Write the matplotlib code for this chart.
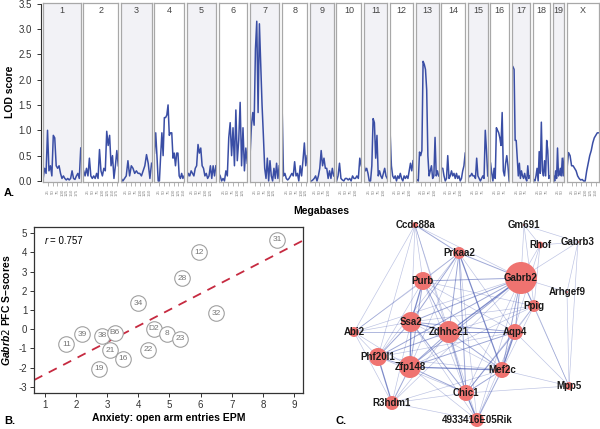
import numpy as np
import matplotlib.pyplot as plt
from matplotlib.patches import Circle

W, H = 600, 429

plt.rcParams['font.family'] = ['Liberation Sans', 'DejaVu Sans']
plt.rcParams['axes.unicode_minus'] = False
plt.rcParams['mathtext.fontset'] = 'custom'
plt.rcParams['mathtext.it'] = 'Liberation Sans:italic:bold'

# ---- Panel A: LOD scores per chromosome ----
chrom_names = ['1', '2', '3', '4', '5', '6', '7', '8', '9', '10', '11', '12', '13', '14',
               '15', '16', '17', '18', '19', 'X']
chrom_len = [197, 182, 160, 156, 152, 150, 153, 132, 125, 130, 122, 121, 120, 125,
             104, 98, 95, 91, 61, 167]

lod_1 = [0.05, 0.25, 0.15, 1.0, 0.2, 0.3, 0.1, 0.9, 0.85, 0.3, 0.25, 0.3, 0.15, 0.05,
         0.1, 0.05, 0.02, 0.05, 0.02, 0.05, 0.2, 0.05, 0.03, 0.1, 0.15, 0.05, 0.65]
lod_2 = [0.2, 0.1, 0.25, 0.1, 0.45, 0.1, 0.05, 0.1, 0.05, 0.15, 0.05, 0.62, 0.2, 0.1,
         0.25, 0.2, 0.98, 0.7, 0.9, 0.3, 0.5, 0.05, 0.3, 0.6, 0.3]
lod_3 = [0.05, 0.0, 0.05, 0.1, 0.4, 0.1, 0.3, 0.25, 0.15, 0.2, 0.15, 0.15, 0.1, 0.2,
         0.3, 0.52, 0.35, 0.05, 0.35]
lod_4 = [0.55, 0.95, 0.5, 0.0, 0.0, 0.5, 0.95, 0.5, 1.25, 1.25, 1.3, 1.5, 0.9, 0.95,
         0.95, 0.45, 0.55, 0.3, 0.55, 0.55, 0.1, 0.05, 0.15, 0.05, 0.1]
lod_5 = [0.05, 0.15, 0.1, 0.2, 0.15, 0.1, 0.25, 0.3, 0.72, 0.55, 0.65, 0.3, 0.25, 0.1,
         0.15, 0.05, 0.1, 0.3, 0.05, 0.3, 0.1, 0.3]
lod_6 = [0.15, 0.1, 0.0, 0.05, 0.0, 0.2, 0.1, 0.85, 1.15, 0.5, 1.05, 0.3, 1.4, 0.4,
         0.8, 1.55, 0.3, 1.05, 0.2, 0.65, 0.35]
lod_7 = [0.55, 1.1, 1.35, 1.1, 2.6, 3.15, 1.35, 3.1, 2.3, 1.5, 0.9, 0.25, 0.05, 0.45,
         0.0, 0.4, 0.1, 0.0, 0.25, 0.05, 0.35, 0.05, 0.3]
lod_8 = [1.45, 0.1, 0.15, 0.05, 0.02, 0.05, 0.1, 0.15, 0.1, 0.38, 0.1, 0.15, 0.0, 0.3,
         0.1, 0.4, 0.75, 0.3, 0.5]
lod_9 = [0.0, 0.0, 0.02, 0.05, 0.1, 0.0, 0.1, 0.25, 0.6, 0.3, 0.45, 0.25, 0.25, 0.05,
         0.2, 0.05, 0.25, 0.1]
lod_10 = [0.0, 0.1, 0.35, 0.05, 0.02, 0.0, 0.05, 0.05, 0.02, 0.05, 0.0, 0.1, 0.05, 0.05,
          0.1, 0.05, 0.45, 0.3]
lod_11 = [0.3, 0.2, 0.25, 0.15, 0.0, 0.0, 0.3, 1.23, 1.15, 0.45, 0.9, 0.1, 0.2, 0.1,
          0.05, 0.15, 0.25, 0.1, 0.05]
lod_12 = [0.96, 0.3, 0.1, 0.05, 0.1, 0.0, 0.1, 0.05, 0.15, 0.05, 0.0, 0.1, 0.05, 0.1,
          0.05, 0.2, 0.35, 0.2, 0.4]
lod_13 = [0.0, 0.02, 0.0, 0.57, 0.5, 0.6, 2.36, 2.3, 2.2, 1.8, 0.5, 0.1, 0.2, 0.3,
          0.05, 0.1, 0.86, 0.1, 0.2, 0.1]
lod_14 = [0.25, 0.25, 0.1, 0.0, 0.05, 0.5, 0.05, 0.1, 0.2, 0.1, 0.15, 0.05, 0.15, 0.05,
          0.1, 0.0, 0.05, 0.2, 0.3, 0.55]
lod_15 = [0.05, 0.1, 0.1, 0.15, 0.1, 0.1, 0.05, 0.45, 0.1, 0.05, 0.0, 0.05, 0.1, 0.05,
          1.0, 0.6, 0.1]
lod_16 = [0.35, 0.15, 0.0, 0.25, 0.05, 1.05, 1.0, 0.95, 0.85, 0.7, 1.35, 0.2, 0.1, 0.35,
          0.5, 0.3, 0.0]
lod_17 = [2.28, 2.25, 2.2, 0.8, 0.8, 0.45, 0.1, 0.35, 0.05, 0.2, 0.1, 0.05, 0.15, 0.05,
          0.0, 0.3, 0.05, 0.1]
lod_18 = [0.05, 0.02, 0.0, 0.1, 0.25, 0.0, 0.58, 0.15, 1.16, 0.2, 0.1, 0.4, 0.1, 0.8,
          0.6, 0.05, 0.1]
lod_19 = [0.05, 0.1, 0.0, 0.2, 0.05, 0.65, 0.1, 0.15, 0.25, 0.1, 0.45, 0.1, 0.45]
lod_x = [0.25, 0.56, 0.5, 0.3, 0.3, 0.25, 0.2, 0.1, 0.05, 0.02, 0.03, 0.0, 0.0, 0.2,
         0.35, 0.5, 0.6, 0.75, 0.85, 0.9, 0.95, 0.95]

chrom_lod = [lod_1, lod_2, lod_3, lod_4, lod_5, lod_6, lod_7, lod_8, lod_9, lod_10,
             lod_11, lod_12, lod_13, lod_14, lod_15, lod_16, lod_17, lod_18, lod_19, lod_x]

# ---- Panel B: strain scatter ----
strain_labels = ['11', '39', '38', 'B6', '21', '16', '19', '34', '22', 'D2', '8', '23',
                 '28', '12', '32', '31']
epm_entries = [1.7, 2.2, 2.85, 3.25, 3.1, 3.52, 2.75, 4.0, 4.32, 4.5, 4.93, 5.33,
               5.4, 5.94, 6.5, 8.45]
gabrb2_score = [-0.78, -0.26, -0.35, -0.18, -1.1, -1.53, -2.07, 1.35, -1.08, 0.03, -0.25,
                -0.5, 2.66, 4.0, 0.83, 4.67]
fit_slope = 0.844
fit_intercept = -3.21
r_value = 0.757

# ---- Panel C: network (layout coordinates) ----
node_names = ['Ccdc88a', 'Gm691', 'Gabrb3', 'Rhof', 'Prkaa2', 'Gabrb2', 'Arhgef9', 'Purb',
              'Ppig', 'Ssa2', 'Zdhhc21', 'Aqp4', 'Abi2', 'Phf20l1', 'Zfp148', 'Mef2c',
              'Mpp5', 'Chic1', 'R3hdm1', '4933416E05Rik']
node_x = [415, 524, 578, 540, 459, 521, 567, 423, 534, 411, 449, 515, 354, 378, 410, 502,
          569, 466, 392, 477]
node_y = [225, 225, 242, 245, 253, 278, 292, 281, 306, 322, 332, 332, 332, 357, 367, 370,
          386, 393, 403, 420]
node_size = [3, 1, 1, 3.5, 6, 16, 1, 9, 6, 10, 11, 8, 5, 9, 11, 8, 4, 8, 7, 7]
edges = [
    ('Ccdc88a', 'Prkaa2', 2), ('Ccdc88a', 'Gabrb2', 1), ('Ccdc88a', 'Purb', 1),
    ('Ccdc88a', 'Ssa2', 1), ('Ccdc88a', 'Abi2', 1), ('Ccdc88a', 'Zdhhc21', 1),
    ('Ccdc88a', 'Chic1', 1), ('Ccdc88a', 'Phf20l1', 1),
    ('Gm691', 'Gabrb2', 1), ('Gm691', 'Gabrb3', 1), ('Gm691', 'Ppig', 1), ('Gm691', 'Rhof', 1),
    ('Gabrb3', 'Gabrb2', 1), ('Gabrb3', 'Arhgef9', 1), ('Gabrb3', 'Mpp5', 1), ('Gabrb3', 'Rhof', 1),
    ('Rhof', 'Gabrb2', 1), ('Rhof', 'Ppig', 1), ('Rhof', 'Mef2c', 1),
    ('Arhgef9', 'Gabrb2', 1), ('Arhgef9', 'Mpp5', 1),
    ('Prkaa2', 'Gabrb2', 2), ('Prkaa2', 'Purb', 1), ('Prkaa2', 'Ssa2', 2), ('Prkaa2', 'Zdhhc21', 2),
    ('Prkaa2', 'Aqp4', 1), ('Prkaa2', 'Zfp148', 1), ('Prkaa2', 'Mef2c', 3), ('Prkaa2', 'Chic1', 2),
    ('Prkaa2', 'Phf20l1', 1), ('Prkaa2', '4933416E05Rik', 1), ('Prkaa2', 'Abi2', 1),
    ('Gabrb2', 'Purb', 2), ('Gabrb2', 'Ssa2', 2), ('Gabrb2', 'Zdhhc21', 3), ('Gabrb2', 'Aqp4', 2),
    ('Gabrb2', 'Ppig', 2), ('Gabrb2', 'Zfp148', 2), ('Gabrb2', 'Mef2c', 2), ('Gabrb2', 'Chic1', 1),
    ('Gabrb2', 'Phf20l1', 2), ('Gabrb2', 'Abi2', 1), ('Gabrb2', 'R3hdm1', 1), ('Gabrb2', 'Mpp5', 1),
    ('Gabrb2', '4933416E05Rik', 1),
    ('Purb', 'Ssa2', 3), ('Purb', 'Zdhhc21', 2), ('Purb', 'Aqp4', 1), ('Purb', 'Zfp148', 2),
    ('Purb', 'Phf20l1', 1), ('Purb', 'Abi2', 1), ('Purb', 'Mef2c', 1), ('Purb', 'Chic1', 1),
    ('Purb', 'Ppig', 1),
    ('Ppig', 'Aqp4', 1), ('Ppig', 'Zdhhc21', 1), ('Ppig', 'Ssa2', 1), ('Ppig', 'Mef2c', 1),
    ('Ppig', 'Mpp5', 1), ('Ppig', 'Zfp148', 1), ('Ppig', 'Chic1', 1),
    ('Ssa2', 'Zdhhc21', 3), ('Ssa2', 'Aqp4', 2), ('Ssa2', 'Abi2', 1), ('Ssa2', 'Phf20l1', 2),
    ('Ssa2', 'Zfp148', 3), ('Ssa2', 'Mef2c', 1), ('Ssa2', 'Chic1', 2), ('Ssa2', 'R3hdm1', 1),
    ('Ssa2', '4933416E05Rik', 1),
    ('Zdhhc21', 'Aqp4', 2), ('Zdhhc21', 'Abi2', 1), ('Zdhhc21', 'Phf20l1', 2),
    ('Zdhhc21', 'Zfp148', 2), ('Zdhhc21', 'Mef2c', 2), ('Zdhhc21', 'Chic1', 2),
    ('Zdhhc21', 'R3hdm1', 1), ('Zdhhc21', '4933416E05Rik', 1),
    ('Aqp4', 'Abi2', 1), ('Aqp4', 'Phf20l1', 1), ('Aqp4', 'Zfp148', 2), ('Aqp4', 'Mef2c', 3),
    ('Aqp4', 'Chic1', 2), ('Aqp4', 'Mpp5', 1), ('Aqp4', '4933416E05Rik', 1),
    ('Abi2', 'Phf20l1', 1), ('Abi2', 'Zfp148', 1), ('Abi2', 'R3hdm1', 1),
    ('Phf20l1', 'Zfp148', 2), ('Phf20l1', 'R3hdm1', 3), ('Phf20l1', 'Chic1', 1),
    ('Phf20l1', 'Mef2c', 1),
    ('Zfp148', 'Mef2c', 3), ('Zfp148', 'Chic1', 2), ('Zfp148', 'R3hdm1', 2),
    ('Zfp148', '4933416E05Rik', 1),
    ('Mef2c', 'Chic1', 2), ('Mef2c', 'Mpp5', 1), ('Mef2c', '4933416E05Rik', 2), ('Mef2c', 'R3hdm1', 1),
    ('Chic1', 'R3hdm1', 1), ('Chic1', '4933416E05Rik', 3), ('Chic1', 'Mpp5', 1),
    ('R3hdm1', '4933416E05Rik', 1),
]


def box(x0, y0, x1, y1):
    # pixel box (top-left origin) -> figure fraction rect
    return [x0 / W, 1 - y1 / H, (x1 - x0) / W, (y1 - y0) / H]


fig = plt.figure(figsize=(6, 4.29), dpi=100)

# Panel A
lod_color = '#3a4ea5'
a_left, a_right, a_top, a_bottom = 43, 599, 3, 182
gap = 2.5
scale = (a_right - a_left - gap * (len(chrom_len) - 1)) / sum(chrom_len)
x0 = a_left
for i, (name, length, vals) in enumerate(zip(chrom_names, chrom_len, chrom_lod)):
    w = length * scale
    ax = fig.add_axes(box(x0, a_top, x0 + w, a_bottom))
    x0 += w + gap
    ax.set_facecolor('#f2f2f6' if i % 2 == 0 else 'white')
    pos = np.linspace(1, length - 1, len(vals))
    ax.plot(pos, vals, color=lod_color, lw=1.1)
    ax.set_xlim(0, length)
    ax.set_ylim(-0.02, 3.51)
    for s in ax.spines.values():
        s.set_color('#a8a8a8')
        s.set_linewidth(0.9)
    ticks = np.arange(25, length - 5, 25)
    ax.set_xticks(ticks)
    ax.set_xticklabels([str(t) for t in ticks], rotation=90, fontsize=3.2, color='#888888')
    ax.tick_params(axis='x', length=3, width=0.5, color='#999999', pad=2)
    ax.set_yticks([])
    ax.text(0.5, 0.985, name, transform=ax.transAxes, ha='center', va='top',
            fontsize=6.5, color='#444444')

axy = fig.add_axes(box(40.7, a_top, 41.2, a_bottom))
axy.set_ylim(-0.02, 3.51)
axy.set_xticks([])
axy.set_yticks(np.arange(0, 3.6, 0.5))
axy.set_yticklabels(['%.1f' % v for v in np.arange(0, 3.6, 0.5)])
axy.tick_params(axis='y', labelsize=7, length=3, width=0.7, colors='#333333')
for k in ['top', 'right', 'bottom']:
    axy.spines[k].set_visible(False)
axy.spines['left'].set_bounds(0, 3.5)
axy.spines['left'].set_color('#333333')
axy.patch.set_visible(False)

fig.text(10 / W, 1 - 92 / H, 'LOD score', rotation=90, ha='center', va='center',
         fontsize=7.5, weight='bold')
fig.text(321 / W, 1 - 211 / H, 'Megabases', ha='center', va='center',
         fontsize=7.5, weight='bold')
fig.text(4 / W, 1 - 193 / H, 'A.', ha='left', va='center', fontsize=8, weight='bold')

# Panel B
axb = fig.add_axes(box(34.3, 227.3, 303, 392.7))
axb.set_xlim(0.67, 9.28)
axb.set_ylim(-3.31, 5.31)
xs = np.array([0.67, 9.28])
axb.plot(xs, fit_intercept + fit_slope * xs, color='#c62a40', lw=1.3, ls=(0, (5, 4)))
axb.scatter(epm_entries, gabrb2_score, s=125, facecolor='white', edgecolor='#a0a0a0',
            linewidth=0.8, zorder=3)
for lab, x, y in zip(strain_labels, epm_entries, gabrb2_score):
    axb.text(x, y, lab, ha='center', va='center', fontsize=6, color='#777777', zorder=4)
axb.set_xticks(range(1, 10))
axb.set_yticks(range(-3, 6))
axb.tick_params(labelsize=7, length=3, width=0.7, colors='#333333', pad=2)
for s in axb.spines.values():
    s.set_color('#333333')
    s.set_linewidth(0.9)
t = axb.text(1.02, 4.6, 'r', style='italic', fontsize=7, va='center', ha='left')
axb.annotate('= %.3f' % r_value, xy=(1, 0.5), xycoords=t, xytext=(1, 0),
             textcoords='offset points', va='center', ha='left', fontsize=7)

fig.text(168.5 / W, 1 - 418 / H, 'Anxiety: open arm entries EPM', ha='center',
         va='center', fontsize=7.5, weight='bold')
fig.text(6 / W, 1 - 310 / H, r'$\it{Gabrb2}$ PFC S–scores', rotation=90, ha='center',
         va='center', fontsize=7.5, weight='bold')
fig.text(4 / W, 1 - 421 / H, 'B.', ha='left', va='center', fontsize=8, weight='bold')

# Panel C
axc = fig.add_axes(box(320, 212, 600, 429))
axc.set_xlim(320, 600)
axc.set_ylim(429, 212)
axc.axis('off')
idx = {n: i for i, n in enumerate(node_names)}
for a, b, wgt in edges:
    ia, ib = idx[a], idx[b]
    axc.plot([node_x[ia], node_x[ib]], [node_y[ia], node_y[ib]], color='#4a5cb3',
             lw=0.25 + 0.22 * wgt, alpha=0.2 + 0.17 * wgt, zorder=1)
for n, x, y, r in zip(node_names, node_x, node_y, node_size):
    axc.add_patch(Circle((x, y), r, facecolor='#ef7370', edgecolor='none', zorder=2))
    axc.text(x, y, n, ha='center', va='center', fontsize=7, weight='bold',
             color='#1a1a1a', zorder=3)
fig.text(335 / W, 1 - 421 / H, 'C.', ha='left', va='center', fontsize=8, weight='bold')

fig.savefig('out.png', dpi=100)
